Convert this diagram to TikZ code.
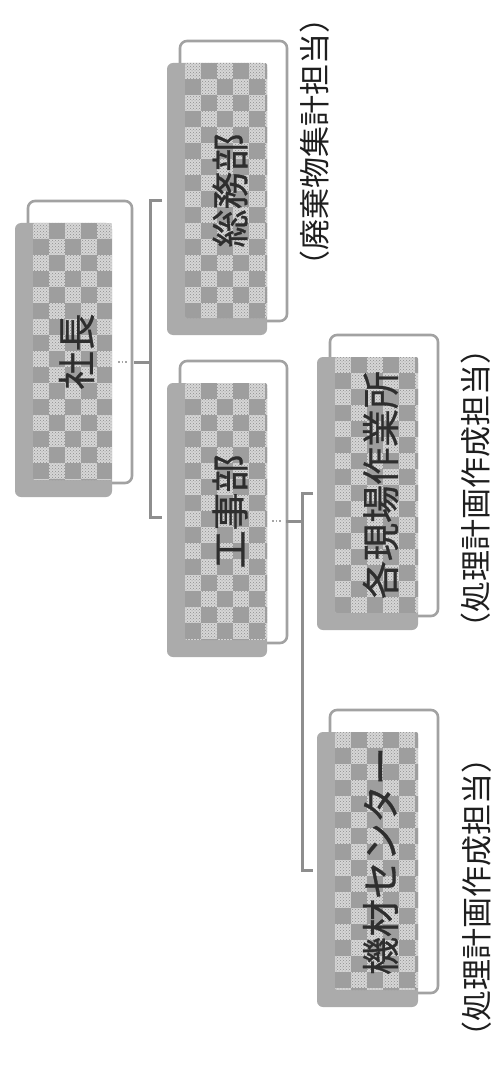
\documentclass[tikz,border=0pt]{standalone}
\usepackage{fontspec}
\newfontfamily\jp{Noto Sans CJK JP}
\newfontfamily\jpb[FakeBold=0.8]{Noto Sans CJK JP}
\usetikzlibrary{patterns}
\definecolor{shadegray}{HTML}{ABABAB}
\definecolor{darksq}{HTML}{9E9E9E}
\definecolor{lightbase}{HTML}{D6D6D6}
\definecolor{dotgray}{HTML}{8E8E8E}
\definecolor{outlgray}{HTML}{A2A2A2}
\definecolor{conngray}{HTML}{8E8E8E}
\definecolor{boxtext}{HTML}{2E2E2E}
\definecolor{notetext}{HTML}{1E1E1E}
\tikzset{
  outl/.style={draw=outlgray, line width=2.6pt, rounded corners=7pt},
  shade/.style={fill=shadegray, rounded corners=6pt},
  lightsq/.style={pattern=crosshatch dots, pattern color=dotgray},
  darkbox/.style={fill=darksq},
  boxlabel/.style={rotate=90, inner sep=0pt, text=boxtext, font=\jpb\fontsize{38}{38}\selectfont},
  notelabel/.style={rotate=90, inner sep=0pt, text=notetext, font=\jp\fontsize{31}{31}\selectfont},
  conn/.style={draw=conngray, line width=3pt},
  stub/.style={draw=conngray!80, line width=1.6pt, dotted},
}
\newcommand\orgbox[6]{%
  \draw[outl] (#2-5,#3-22) rectangle (#4+20,#5+3);
  \fill[shade] (#2-18,#3) rectangle (#4,#5+17);
  \begin{scope}
    \clip[rounded corners=2pt] (#2,#3) rectangle (#4,#5);
    \fill[lightbase] (#2,#3) rectangle (#4,#5);
    \fill[lightsq] (#2,#3) rectangle (#4,#5);
    \foreach \i in {0,...,5}{
      \foreach \j in {0,...,16}{
        \ifodd\numexpr\i+\j\relax
          \fill[darkbox] ({#2+16*\i},{#3+16*\j}) rectangle +(16,16);
        \fi
      }
    }
  \end{scope}
  \node[boxlabel] (#1) at ({(#2+#4)/2+4},{(#3+#5)/2}) {#6};
}
\begin{document}
\begin{tikzpicture}[x=1pt,y=-1pt]
\useasboundingbox (0,0) rectangle (501,1067);
\fill[white] (0,0) rectangle (501,1067);

\orgbox{shacho}{33}{223}{112}{480}{社長}
\orgbox{somu}{185}{63}{267}{318}{総務部}
\orgbox{koji}{185}{383}{267}{640}{工事部}
\orgbox{genba}{335}{357}{418}{613}{各現場作業所}
\orgbox{kizai}{335}{732}{418}{990}{機材センター}

% annotations
\node[notelabel] (n1) at (315,142) {（廃棄物集計担当）};
\node[notelabel] (n2) at (476,488) {（処理計画作成担当）};
\node[notelabel] (n3) at (477,897) {（処理計画作成担当）};

% connectors from 社長
\coordinate (a0) at (118,362);
\coordinate (a1) at (128,362);
\coordinate (a2) at (134,362);
\coordinate (a3) at (150,362);
\coordinate (at) at (150,201);
\coordinate (ab) at (150,517);
\coordinate (ate) at (162,201);
\coordinate (abe) at (162,517);
\draw[stub] (a0) -- (a1);
\draw[conn] (a2) -- (a3);
\draw[conn, line cap=butt] (ate) -- (at) -- (ab) -- (abe);

% connectors from 工事部
\coordinate (b0) at (272,521);
\coordinate (b1) at (281,521);
\coordinate (b2) at (286,521);
\coordinate (b3) at (302,521);
\coordinate (bt) at (302,493);
\coordinate (bb) at (302,870);
\coordinate (bte) at (313,493);
\coordinate (bbe) at (313,870);
\draw[stub] (b0) -- (b1);
\draw[conn] (b2) -- (b3);
\draw[conn, line cap=butt] (bte) -- (bt) -- (bb) -- (bbe);
\end{tikzpicture}
\end{document}
